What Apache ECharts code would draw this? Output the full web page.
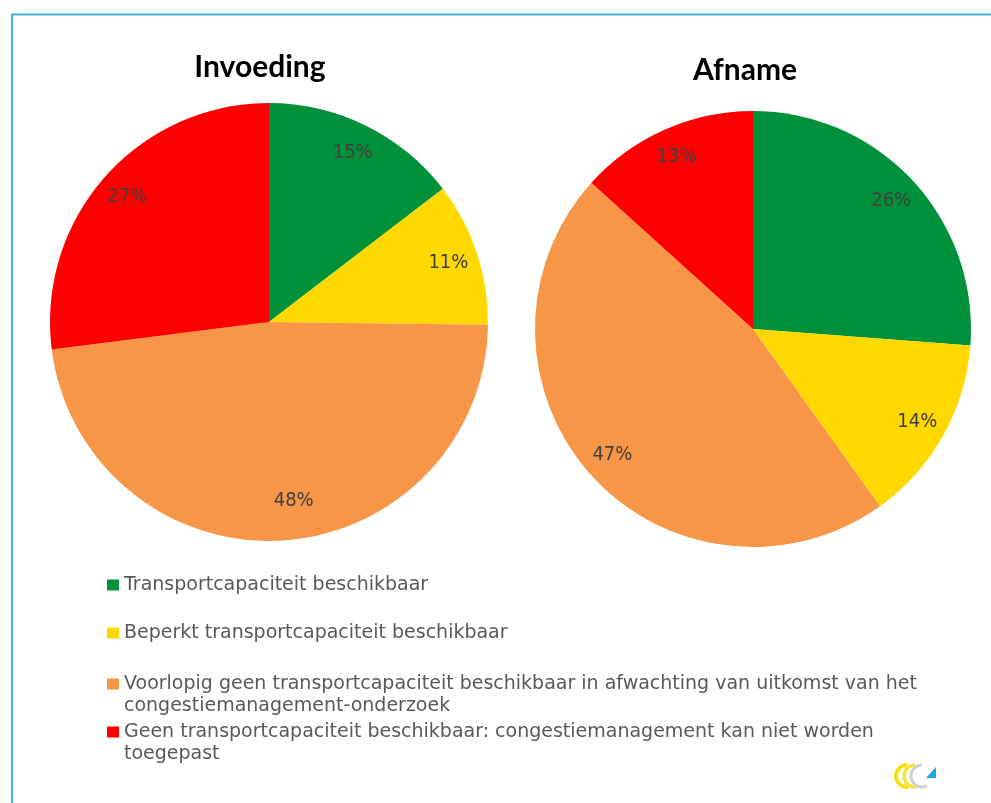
<!DOCTYPE html>
<html>
<head>
<meta charset="utf-8">
<title>Invoeding / Afname</title>
<script src="https://cdnjs.cloudflare.com/ajax/libs/echarts/6.0.0/echarts.min.js"></script>
<style>
  html, body { margin: 0; padding: 0; background: #ffffff; }
  #chart { width: 991px; height: 803px; }
</style>
</head>
<body>
<div id="chart"></div>
<script>
  // categories (full legend text) and wrapped legend text
  var categories = [
    'Transportcapaciteit beschikbaar',
    'Beperkt transportcapaciteit beschikbaar',
    'Voorlopig geen transportcapaciteit beschikbaar in afwachting van uitkomst van het congestiemanagement-onderzoek',
    'Geen transportcapaciteit beschikbaar: congestiemanagement kan niet worden toegepast'
  ];
  var legendText = [
    'Transportcapaciteit beschikbaar',
    'Beperkt transportcapaciteit beschikbaar',
    'Voorlopig geen transportcapaciteit beschikbaar in afwachting van uitkomst van het\ncongestiemanagement-onderzoek',
    'Geen transportcapaciteit beschikbaar: congestiemanagement kan niet worden\ntoegepast'
  ];
  var chartTitles = ['Invoeding', 'Afname'];
  // percentages
  var invoedingValues = [14.6, 10.6, 47.8, 27.0];
  var afnameValues = [26.2, 13.9, 46.6, 13.3];

  var COL = {
    green: '#00913a',
    yellow: '#ffd800',
    orange: '#f79646',
    red: '#ff0000',
    label: '#404040',
    legend: '#595959',
    frame: '#3fb2e4'
  };
  var sliceColors = [COL.green, COL.yellow, COL.orange, COL.red];
  var FONT = '"DejaVu Sans", Verdana, sans-serif';

  function pieData(values) {
    return values.map(function (v, i) {
      return { name: categories[i], value: v, itemStyle: { color: sliceColors[i] } };
    });
  }

  function pieSeries(values, center, r, layout) {
    return [
      {
        type: 'pie',
        center: center,
        radius: [0, r],
        startAngle: 90,
        clockwise: true,
        silent: true,
        animation: false,
        label: { show: false },
        labelLine: { show: false },
        itemStyle: { borderWidth: 0 },
        data: pieData(values)
      },
      {
        // label ring only: puts the inside labels at ~0.85 r
        type: 'pie',
        center: center,
        radius: [Math.round(r * 0.7), r],
        startAngle: 90,
        clockwise: true,
        silent: true,
        animation: false,
        itemStyle: { color: 'transparent', borderWidth: 0 },
        label: {
          show: true,
          position: 'inside',
          color: COL.label,
          fontFamily: '"Liberation Sans Narrow", "DejaVu Sans Condensed", sans-serif',
          fontSize: 20,
          formatter: function (p) { return Math.round(p.value) + '%'; }
        },
        labelLayout: layout,
        labelLine: { show: false },
        data: values.map(function (v, i) { return { name: categories[i], value: v }; })
      }
    ];
  }

  // the big orange label sits a bit right of its mid angle in the original
  function invoedingLabelNudge(p) {
    if (p.dataIndex === 2) return { dx: 14, dy: -10 };
    return {};
  }

  var legendCenters = [585, 633, 684, 732];

  var legends = legendText.map(function (txt, i) {
    var multi = txt.indexOf('\n') >= 0;
    // leading empty line keeps the first text line level with the marker
    var shown = multi ? '\n' + txt : txt;
    return {
      data: [{ name: categories[i], itemStyle: { color: sliceColors[i] } }],
      orient: 'vertical',
      left: 107,
      top: multi ? legendCenters[i] - 33 : legendCenters[i] - 11,
      padding: 0,
      icon: 'rect',
      itemWidth: 12,
      itemHeight: 11,
      selectedMode: false,
      formatter: function () { return shown; },
      textStyle: {
        fontFamily: FONT,
        fontSize: 19,
        lineHeight: 22,
        color: COL.legend
      }
    };
  });

  var chart = echarts.init(document.getElementById('chart'), null, { renderer: 'canvas' });
  chart.setOption({
    backgroundColor: '#ffffff',
    animation: false,
    title: [
      { text: chartTitles[0], left: 255, top: 47, textAlign: 'center',
        textStyle: { fontFamily: 'Lato', fontWeight: 'bold', fontSize: 30, color: '#000' } },
      { text: chartTitles[1], left: 740, top: 50, textAlign: 'center',
        textStyle: { fontFamily: 'Lato', fontWeight: 'bold', fontSize: 30, color: '#000' } }
    ],
    legend: legends,
    series: pieSeries(invoedingValues, [269, 322], 219, invoedingLabelNudge)
      .concat(pieSeries(afnameValues, [753, 329], 218)),
    graphic: [
      { type: 'rect', silent: true, shape: { x: 12, y: 14.5, width: 1200, height: 1200 },
        style: { fill: 'none', stroke: COL.frame, lineWidth: 2 } },
      // small logo bottom right
      { type: 'arc', silent: true, shape: { cx: 907, cy: 776, r: 11, startAngle: Math.PI * 0.45, endAngle: Math.PI * 1.5, clockwise: true },
        style: { fill: 'none', stroke: '#f2df1a', lineWidth: 4 } },
      { type: 'arc', silent: true, shape: { cx: 915, cy: 776, r: 11, startAngle: Math.PI * 0.45, endAngle: Math.PI * 1.5, clockwise: true },
        style: { fill: 'none', stroke: '#f5e43a', lineWidth: 3.5 } },
      { type: 'arc', silent: true, shape: { cx: 922, cy: 776, r: 11, startAngle: Math.PI * 0.35, endAngle: Math.PI * 1.5, clockwise: true },
        style: { fill: 'none', stroke: '#d2d2d2', lineWidth: 3 } },
      { type: 'polygon', silent: true, shape: { points: [[926, 778], [936, 778], [936, 767]] },
        style: { fill: '#1aa7e6' } }
    ]
  });
</script>
</body>
</html>
